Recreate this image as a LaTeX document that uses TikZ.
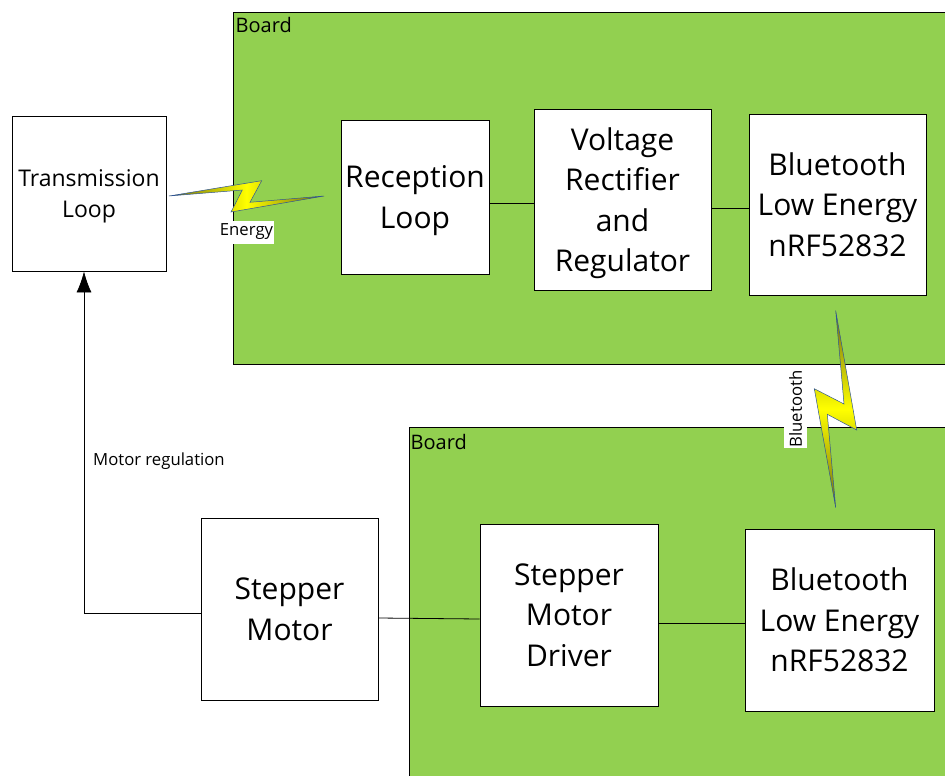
\documentclass[tikz,border=0pt]{standalone}
\usepackage{fontspec}
\usetikzlibrary{arrows.meta}
\setmainfont{Open Sans}
\definecolor{boardgreen}{HTML}{92D050}
\definecolor{boltedge}{HTML}{2F5597}
\definecolor{boltdark}{HTML}{6B6B10}
\tikzset{
	blockbox/.style={draw=black,fill=white,line width=0.8pt,inner sep=0pt,align=center,text depth=0pt,font=\fontsize{30}{40.5}\selectfont},
	boardbox/.style={draw=black,fill=boardgreen,line width=0.8pt,inner sep=0pt},
	boardname/.style={inner sep=0pt,anchor=base west,font=\fontsize{20}{24}\selectfont},
	smalltext/.style={inner sep=1pt,font=\fontsize{16.7}{20}\selectfont},
	labelbox/.style={smalltext,fill=white,minimum height=23},
	wire/.style={line width=0.8pt,black},
	bolt/.style={draw=boltedge,line width=0.5pt}
}
\begin{document}
\begin{tikzpicture}[x=1pt,y=-1pt]
	\useasboundingbox (0,0) rectangle (945,776);
	\clip (0,0) rectangle (945,776);
	% Boards
	\node[boardbox,minimum width=752,minimum height=352] (boardtop) at (609,188) {};
	\node[boardbox,minimum width=576,minimum height=389] (boardbottom) at (697,621.5) {};
	\node[boardname] (boardtoplabel) at (235.5,33) {Board};
	\node[boardname] (boardbottomlabel) at (410.5,449) {Board};
	% Upper blocks
	\node[blockbox,minimum width=154,minimum height=155,font=\fontsize{23}{31}\selectfont] (transmission) at (89,193.5) {Transmission\\Loop};
	\node[blockbox,minimum width=148,minimum height=154] (reception) at (415,197) {Reception\\Loop};
	\node[blockbox,minimum width=177,minimum height=181] (rectifier) at (622.5,199.5) {Voltage\\Rectifier\\and\\Regulator};
	\node[blockbox,minimum width=177,minimum height=181] (bletop) at (837.5,204.5) {Bluetooth\\Low Energy\\nRF52832};
	% Lower blocks
	\node[blockbox,minimum width=177,minimum height=182] (motor) at (289.5,609) {Stepper\\Motor};
	\node[blockbox,minimum width=178,minimum height=182] (driver) at (569,615) {Stepper\\Motor\\Driver};
	\node[blockbox,minimum width=189,minimum height=182] (blebottom) at (839.5,620) {Bluetooth\\Low Energy\\nRF52832};
	% Wires
	\draw[wire] ([yshift=-6]reception.east) -- ([yshift=-3.5]rectifier.west);
	\draw[wire] ([yshift=-8.5]rectifier.east) -- ([yshift=-3.5]bletop.west);
	\draw[wire] ([yshift=-9]motor.east) -- ([yshift=-4]driver.west);
	\draw[wire] ([yshift=-8]driver.east) -- ([yshift=-3]blebottom.west);
	% Motor regulation
	\draw[wire,-{Latex[length=21pt,width=15pt]}] ([yshift=-4]motor.west) -| ([xshift=-5]transmission.south);
	\node[smalltext,anchor=west] (regulation) at (92,461) {Motor regulation};
	% Energy bolt
	\shade[bolt,left color=boltdark,right color=boltdark,middle color=yellow] (169,196) -- (261.7,180.7) -- (250,202.3) -- (324,196) -- (231,212) -- (242.3,190) -- cycle;
	\node[labelbox] (energy) at (246.5,232) {Energy};
	% Bluetooth bolt
	\shade[bolt,top color=boltdark,bottom color=boltdark,middle color=yellow] (835.7,310.7) -- (856.7,430) -- (827.3,414.3) -- (835.7,507.7) -- (814.3,388.7) -- (844,404) -- cycle;
	\node[labelbox,rotate=90] (bluetooth) at (795.5,409) {Bluetooth};
\end{tikzpicture}
\end{document}
